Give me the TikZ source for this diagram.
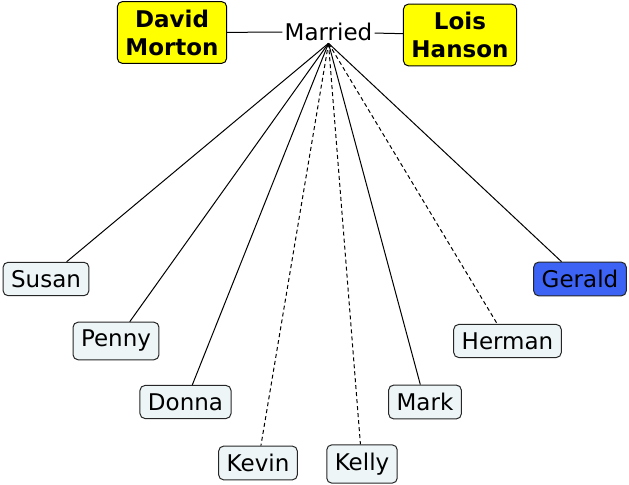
\documentclass[tikz,border=0pt]{standalone}
\usepackage{fontspec}
\setmainfont{DejaVu Sans}
\definecolor{amarillo}{rgb}{1,1,0}
\definecolor{grisclaro}{rgb}{0.93,0.96,0.97}
\definecolor{azulgerald}{rgb}{0.24,0.39,0.96}
\tikzset{
  conyuge/.style={
    rounded corners=2.5pt,
    draw=black,
    fill=amarillo,
    align=center,
    inner xsep=4pt,
    inner ysep=4pt,
    line width=.5pt,
    font=\fontsize{11.5}{14}\selectfont\bfseries
  },
  hijo/.style={
    rounded corners=2.5pt,
    draw=black!85,
    fill=grisclaro,
    inner xsep=4pt,
    inner ysep=4pt,
    line width=.5pt,
    font=\fontsize{11.5}{13.8}\selectfont
  },
  rama/.style={
    black,
    line width=.5pt
  },
  ramapunteada/.style={
    rama,
    dash pattern=on 2pt off 1.5pt
  }
}

\begin{document}
\begin{tikzpicture}[x=.5pt,y=-.5pt]
\useasboundingbox (0,0) rectangle (629,485);
\node[conyuge] (david) at (172,32.5) {David\\Morton};
\node[conyuge] (lois) at (460,35) {Lois\\Hanson};
\node[font=\fontsize{11.5}{13.8}\selectfont,inner sep=1pt] (married) at (328.5,32) {Married};
\node[hijo] (susan) at (46,279) {Susan};
\node[hijo] (penny) at (116,341) {Penny};
\node[hijo] (donna) at (185.5,402) {Donna};
\node[hijo] (kevin) at (258,463) {Kevin};
\node[hijo] (kelly) at (362,464) {Kelly};
\node[hijo] (mark) at (425,402) {Mark};
\node[hijo] (herman) at (507.5,341) {Herman};
\node[hijo,fill=azulgerald] (gerald) at (580,279) {Gerald};
\draw[rama] (david) -- (married);
\draw[rama] (married) -- (lois);
\draw[rama] (married.south) -- (susan);
\draw[rama] (married.south) -- (penny);
\draw[rama] (married.south) -- (donna);
\draw[ramapunteada] (married.south) -- (kevin);
\draw[ramapunteada] (married.south) -- (kelly);
\draw[rama] (married.south) -- (mark);
\draw[ramapunteada] (married.south) -- (herman);
\draw[rama] (married.south) -- (gerald);
\end{tikzpicture}
\end{document}
